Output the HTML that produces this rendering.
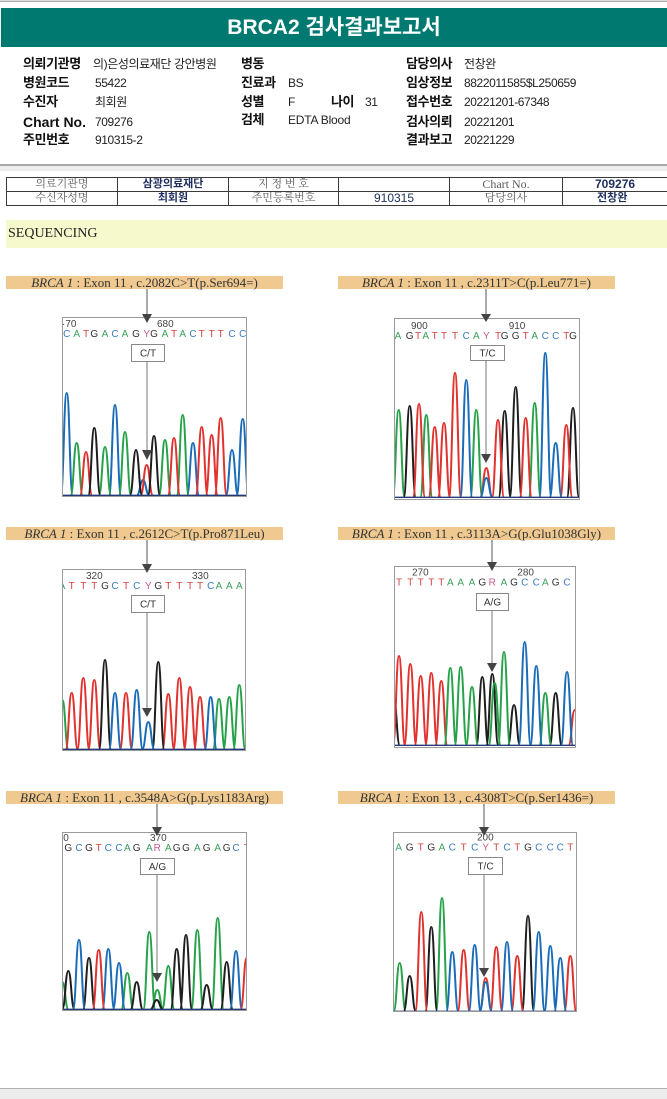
<!DOCTYPE html>
<html><head><meta charset="utf-8">
<style>
html,body{margin:0;padding:0;}
body{width:667px;height:1099px;position:relative;overflow:hidden;background:#fff;font-family:"Liberation Sans","Noto Sans CJK KR",sans-serif;}
.a{position:absolute;white-space:nowrap;line-height:16px;color:#111;}
.l{font-weight:bold;font-size:13px;letter-spacing:-0.4px;font-family:"Liberation Sans","Noto Sans CJK KR",sans-serif;}
.v{font-size:12px;letter-spacing:-0.4px;color:#222;}
table.t{position:absolute;left:6px;top:177px;border-collapse:collapse;table-layout:fixed;width:720px;}
table.t td{border:1px solid #3a3a3a;height:13px;padding:0;font-size:11px;line-height:13px;text-align:center;overflow:hidden;white-space:nowrap;}
.g{color:#5a5a5a;font-family:"Liberation Serif","Noto Serif CJK SC",serif;}
.n{color:#1d2e5e;font-weight:bold;font-family:"Liberation Sans","Noto Sans CJK KR",sans-serif;}
.C{fill:#3a7cc2}.A{fill:#3b9e5c}.T{fill:#d2453f}.G{fill:#333}.Y{fill:#c25a8c}
</style></head><body>
<div style="position:absolute;left:0;top:0;width:667px;height:1px;background:#ddd"></div>
<div style="position:absolute;left:0;top:1px;width:667px;height:1px;background:#aaa"></div>
<div style="position:absolute;left:1px;top:8px;width:666px;height:39px;background:#007a70;color:#fff;font-weight:bold;font-size:21px;line-height:39px;text-align:center;font-family:'Liberation Sans','Noto Sans CJK KR',sans-serif;">BRCA2 검사결과보고서</div>

<div class="a l" style="left:23px;top:56px">의뢰기관명</div>
<div class="a v" style="left:93px;top:56px">의)은성의료재단 강안병원</div>
<div class="a l" style="left:241px;top:56px">병동</div>
<div class="a l" style="left:406px;top:56px">담당의사</div>
<div class="a v" style="left:464px;top:56px">전창완</div>

<div class="a l" style="left:23px;top:75px">병원코드</div>
<div class="a v" style="left:95px;top:75px">55422</div>
<div class="a l" style="left:241px;top:75px">진료과</div>
<div class="a v" style="left:288px;top:75px">BS</div>
<div class="a l" style="left:406px;top:75px">임상정보</div>
<div class="a v" style="left:464px;top:75px">8822011585$L250659</div>

<div class="a l" style="left:23px;top:94px">수진자</div>
<div class="a v" style="left:95px;top:94px">최회원</div>
<div class="a l" style="left:241px;top:94px">성별</div>
<div class="a v" style="left:288px;top:94px">F</div>
<div class="a l" style="left:331px;top:94px">나이</div>
<div class="a v" style="left:365px;top:94px">31</div>
<div class="a l" style="left:406px;top:94px">접수번호</div>
<div class="a v" style="left:464px;top:94px">20221201-67348</div>

<div class="a l" style="left:23px;top:114px;font-size:14px;letter-spacing:0">Chart No.</div>
<div class="a v" style="left:95px;top:114px">709276</div>
<div class="a l" style="left:241px;top:112px">검체</div>
<div class="a v" style="left:288px;top:112px;letter-spacing:-0.2px">EDTA Blood</div>
<div class="a l" style="left:406px;top:114px">검사의뢰</div>
<div class="a v" style="left:464px;top:114px">20221201</div>

<div class="a l" style="left:23px;top:132px">주민번호</div>
<div class="a v" style="left:95px;top:132px">910315-2</div>
<div class="a l" style="left:406px;top:132px">결과보고</div>
<div class="a v" style="left:464px;top:132px">20221229</div>

<div style="position:absolute;left:0;top:164px;width:667px;height:2px;background:#a8a8a8"></div>
<div style="position:absolute;left:0;top:166px;width:667px;height:5px;background:#ececec"></div>

<table class="t">
<colgroup><col style="width:111px"><col style="width:111px"><col style="width:110px"><col style="width:111px"><col style="width:113px"><col style="width:164px"></colgroup>
<tr><td class="g">의료기관명</td><td class="n">삼광의료재단</td><td class="g">지 정 번 호</td><td></td><td class="g" style="font-size:12px">Chart No.</td><td class="n" style="font-size:12px;text-align:left;padding-left:32px">709276</td></tr>
<tr><td class="g">수신자성명</td><td class="n">최회원</td><td class="g">주민등록번호</td><td class="n" style="font-weight:normal;font-size:12px">910315</td><td class="g">담당의사</td><td class="n" style="text-align:left;padding-left:34px">전창완</td></tr>
</table>

<div style="position:absolute;left:6px;top:220px;width:661px;height:28px;background:#f6f9cc;"></div>
<div class="a" style="left:8px;top:226px;font-family:'Liberation Serif',serif;font-size:14px;color:#222;">SEQUENCING</div>

<div style="position:absolute;left:0;top:1088px;width:667px;height:1px;background:#b0b0b0"></div>
<div style="position:absolute;left:0;top:1089px;width:667px;height:10px;background:#ececec"></div>

<svg width="667" height="1099" style="position:absolute;left:0;top:0" font-family="Liberation Sans, sans-serif">
<defs>
<clipPath id="c1"><rect width="185" height="180"/></clipPath>
<clipPath id="c2"><rect width="186" height="182"/></clipPath>
<clipPath id="c3"><rect width="184" height="182"/></clipPath>
<clipPath id="c4"><rect width="182" height="182"/></clipPath>
<clipPath id="c5"><rect width="185" height="179"/></clipPath>
<clipPath id="c6"><rect width="184" height="180"/></clipPath>
</defs>

<!-- label bars -->
<g font-family="Liberation Serif, serif" font-size="13" fill="#333" text-anchor="middle">
<rect x="6" y="276" width="277" height="13" fill="#efc98f"/>
<text x="144.5" y="287"><tspan font-style="italic">BRCA 1</tspan> : Exon 11 , c.2082C&gt;T(p.Ser694=)</text>
<rect x="338" y="276" width="277" height="13" fill="#efc98f"/>
<text x="476.5" y="287"><tspan font-style="italic">BRCA 1</tspan> : Exon 11 , c.2311T&gt;C(p.Leu771=)</text>
<rect x="6" y="527" width="277" height="13" fill="#efc98f"/>
<text x="144.5" y="538"><tspan font-style="italic">BRCA 1</tspan> : Exon 11 , c.2612C&gt;T(p.Pro871Leu)</text>
<rect x="338" y="527" width="277" height="13" fill="#efc98f"/>
<text x="476.5" y="538"><tspan font-style="italic">BRCA 1</tspan> : Exon 11 , c.3113A&gt;G(p.Glu1038Gly)</text>
<rect x="6" y="791" width="277" height="13" fill="#efc98f"/>
<text x="144.5" y="802"><tspan font-style="italic">BRCA 1</tspan> : Exon 11 , c.3548A&gt;G(p.Lys1183Arg)</text>
<rect x="338" y="791" width="277" height="13" fill="#efc98f"/>
<text x="476.5" y="802"><tspan font-style="italic">BRCA 1</tspan> : Exon 13 , c.4308T&gt;C(p.Ser1436=)</text>
</g>

<!-- PANEL 1 -->
<g transform="translate(62,317)">
<rect width="185" height="180" fill="#fff"/>
<g clip-path="url(#c1)">
<g fill="none" stroke-width="2" stroke-linejoin="round" transform="translate(-0.5,0)">
<path stroke="#1b6cb8" d="M-0.8,178c3,0 3,-102 6,-102c3,0 3,102 6,102M47.5,178c3,0 3,-90 6,-90c3,0 3,90 6,90M75.5,178c3,0 3,-15 6,-15c3,0 3,15 6,15M125.5,178c3,0 3,-52 6,-52c3,0 3,52 6,52M164.5,178c3,0 3,-45 6,-45c3,0 3,45 6,45M175.2,178c3,0 3,-76 6,-76c3,0 3,76 6,76"/>
<path stroke="#27a24a" d="M9.2,178c3,0 3,-52 6,-52c3,0 3,52 6,52M37.5,178c3,0 3,-48 6,-48c3,0 3,48 6,48M57.5,178c3,0 3,-63 6,-63c3,0 3,63 6,63M97.5,178c3,0 3,-55 6,-55c3,0 3,55 6,55M115.2,178c3,0 3,-80 6,-80c3,0 3,80 6,80"/>
<path stroke="#e0322e" d="M18.5,178c3,0 3,-43 6,-43c3,0 3,43 6,43M79.2,178c3,0 3,-30 6,-30c3,0 3,30 6,30M106.5,178c3,0 3,-57 6,-57c3,0 3,57 6,57M134.2,178c3,0 3,-68 6,-68c3,0 3,68 6,68M144.2,178c3,0 3,-60 6,-60c3,0 3,60 6,60M153.2,178c3,0 3,-77 6,-77c3,0 3,77 6,77"/>
<path stroke="#1e1e1e" d="M26.8,178c3,0 3,-67 6,-67c3,0 3,67 6,67M68.5,178c3,0 3,-45 6,-45c3,0 3,45 6,45M86.5,178c3,0 3,-59 6,-59c3,0 3,59 6,59"/>
</g>
<path stroke="#223a78" stroke-width="1.4" fill="none" d="M0,178.3H185"/>
<text font-size="10" fill="#444" y="10"><tspan x="0">·70</tspan><tspan x="95">680</tspan></text>
<text font-size="10" y="20" text-anchor="middle"><tspan x="4.7" class="C">C</tspan><tspan x="14.7" class="A">A</tspan><tspan x="24" class="T">T</tspan><tspan x="32.3" class="G">G</tspan><tspan x="43" class="A">A</tspan><tspan x="53" class="C">C</tspan><tspan x="63" class="A">A</tspan><tspan x="74" class="G">G</tspan><tspan x="84.7" class="Y">Y</tspan><tspan x="92" class="G">G</tspan><tspan x="103" class="A">A</tspan><tspan x="112" class="T">T</tspan><tspan x="120.7" class="A">A</tspan><tspan x="131" class="C">C</tspan><tspan x="139.7" class="T">T</tspan><tspan x="149.7" class="T">T</tspan><tspan x="158.7" class="T">T</tspan><tspan x="170" class="C">C</tspan><tspan x="180.7" class="C">C</tspan></text>
</g>
<rect x="0.5" y="0.5" width="184" height="179" fill="none" stroke="#9a9a9a"/>
</g>
<line x1="147" y1="289" x2="147" y2="315" stroke="#555"/>
<polygon points="142,314 152,314 147,323" fill="#444"/>
<rect x="131.5" y="344.5" width="33" height="17" fill="#fff" stroke="#888"/>
<text x="148" y="356.5" font-size="10" text-anchor="middle" fill="#333">C/T</text>
<line x1="147" y1="361.5" x2="147" y2="451" stroke="#777"/>
<polygon points="142,450 152,450 147,460" fill="#444"/>

<!-- PANEL 2 -->
<g transform="translate(394,318)">
<rect width="186" height="182" fill="#fff"/>
<g clip-path="url(#c2)">
<g fill="none" stroke-width="2" stroke-linejoin="round" transform="translate(-0.5,0)">
<path stroke="#27a24a" d="M-0.8,179c3,0 3,-87 6,-87c3,0 3,87 6,87M26.8,179c3,0 3,-82 6,-82c3,0 3,82 6,82M76.8,179c3,0 3,-87 6,-87c3,0 3,87 6,87M135.2,179c3,0 3,-94 6,-94c3,0 3,94 6,94"/>
<path stroke="#1e1e1e" d="M10.2,179c3,0 3,-91 6,-91c3,0 3,91 6,91M105.2,179c3,0 3,-86 6,-86c3,0 3,86 6,86M116.2,179c3,0 3,-110 6,-110c3,0 3,110 6,110M173.5,179c3,0 3,-89 6,-89c3,0 3,89 6,89"/>
<path stroke="#e0322e" d="M19.5,179c3,0 3,-93 6,-93c3,0 3,93 6,93M35.2,179c3,0 3,-70 6,-70c3,0 3,70 6,70M44.5,179c3,0 3,-74 6,-74c3,0 3,74 6,74M55.5,179c3,0 3,-124 6,-124c3,0 3,124 6,124M86.8,179c3,0 3,-29 6,-29c3,0 3,29 6,29M98.5,179c3,0 3,-77 6,-77c3,0 3,77 6,77M126.2,179c3,0 3,-79 6,-79c3,0 3,79 6,79M166.8,179c3,0 3,-72 6,-72c3,0 3,72 6,72"/>
<path stroke="#1b6cb8" d="M66.8,179c3,0 3,-117 6,-117c3,0 3,117 6,117M86.8,179c3,0 3,-19 6,-19c3,0 3,19 6,19M145.8,179c3,0 3,-144 6,-144c3,0 3,144 6,144M156.2,179c3,0 3,-54 6,-54c3,0 3,54 6,54"/>
</g>
<path stroke="#223a78" stroke-width="1.4" fill="none" d="M0,179.3H186"/>
<text font-size="10" fill="#444" y="11"><tspan x="17">900</tspan><tspan x="114.7">910</tspan></text>
<text font-size="10" y="21" text-anchor="middle"><tspan x="4" class="A">A</tspan><tspan x="15.7" class="G">G</tspan><tspan x="24" class="T">T</tspan><tspan x="31.7" class="A">A</tspan><tspan x="40.7" class="T">T</tspan><tspan x="50" class="T">T</tspan><tspan x="61" class="T">T</tspan><tspan x="72.3" class="C">C</tspan><tspan x="82.3" class="A">A</tspan><tspan x="92.3" class="Y">Y</tspan><tspan x="104" class="T">T</tspan><tspan x="110.7" class="G">G</tspan><tspan x="121.7" class="G">G</tspan><tspan x="131.7" class="T">T</tspan><tspan x="140.7" class="A">A</tspan><tspan x="151.3" class="C">C</tspan><tspan x="161.7" class="C">C</tspan><tspan x="172.3" class="T">T</tspan><tspan x="179" class="G">G</tspan></text>
</g>
<rect x="0.5" y="0.5" width="185" height="181" fill="none" stroke="#9a9a9a"/>
</g>
<line x1="486" y1="289" x2="486" y2="315" stroke="#555"/>
<polygon points="481,314 491,314 486,322" fill="#444"/>
<rect x="470.5" y="345.5" width="34" height="15" fill="#fff" stroke="#888"/>
<text x="487.5" y="356.5" font-size="10" text-anchor="middle" fill="#333">T/C</text>
<line x1="486" y1="360.5" x2="486" y2="455" stroke="#777"/>
<polygon points="481,454 491,454 486,463" fill="#444"/>

<!-- PANEL 3 -->
<g transform="translate(62,569)">
<rect width="184" height="182" fill="#fff"/>
<g clip-path="url(#c3)">
<g fill="none" stroke-width="2" stroke-linejoin="round" transform="translate(-0.5,0)">
<path stroke="#27a24a" d="M-5.2,180c3,0 3,-49 6,-49c3,0 3,49 6,49M151.5,180c3,0 3,-50 6,-50c3,0 3,50 6,50M161.8,180c3,0 3,-52 6,-52c3,0 3,52 6,52M171.8,180c3,0 3,-64 6,-64c3,0 3,64 6,64"/>
<path stroke="#e0322e" d="M4.2,180c3,0 3,-56 6,-56c3,0 3,56 6,56M15.8,180c3,0 3,-71 6,-71c3,0 3,71 6,71M26.8,180c3,0 3,-69 6,-69c3,0 3,69 6,69M58.5,180c3,0 3,-56 6,-56c3,0 3,56 6,56M100.8,180c3,0 3,-55 6,-55c3,0 3,55 6,55M111.8,180c3,0 3,-71 6,-71c3,0 3,71 6,71M122.5,180c3,0 3,-62 6,-62c3,0 3,62 6,62M132.5,180c3,0 3,-52 6,-52c3,0 3,52 6,52"/>
<path stroke="#1e1e1e" d="M37.5,180c3,0 3,-89 6,-89c3,0 3,89 6,89M90.8,180c3,0 3,-87 6,-87c3,0 3,87 6,87"/>
<path stroke="#1b6cb8" d="M47.5,180c3,0 3,-56 6,-56c3,0 3,56 6,56M69.2,180c3,0 3,-59 6,-59c3,0 3,59 6,59M80.8,180c3,0 3,-27 6,-27c3,0 3,27 6,27M143.2,180c3,0 3,-52 6,-52c3,0 3,52 6,52"/>
</g>
<path stroke="#223a78" stroke-width="1.4" fill="none" d="M0,180.3H184"/>
<text font-size="10" fill="#444" y="10"><tspan x="24">320</tspan><tspan x="130">330</tspan></text>
<text font-size="10" y="20" text-anchor="middle"><tspan x="0" class="A">A</tspan><tspan x="9.7" class="T">T</tspan><tspan x="21.3" class="T">T</tspan><tspan x="32.3" class="T">T</tspan><tspan x="43" class="G">G</tspan><tspan x="53" class="C">C</tspan><tspan x="64" class="T">T</tspan><tspan x="74.7" class="C">C</tspan><tspan x="86.3" class="Y">Y</tspan><tspan x="96.3" class="G">G</tspan><tspan x="106.3" class="T">T</tspan><tspan x="117.3" class="T">T</tspan><tspan x="128" class="T">T</tspan><tspan x="138" class="T">T</tspan><tspan x="148.7" class="C">C</tspan><tspan x="157" class="A">A</tspan><tspan x="167.3" class="A">A</tspan><tspan x="177.3" class="A">A</tspan></text>
</g>
<rect x="0.5" y="0.5" width="183" height="181" fill="none" stroke="#9a9a9a"/>
</g>
<line x1="147" y1="540" x2="147" y2="565" stroke="#555"/>
<polygon points="142,564 152,564 147,573" fill="#444"/>
<rect x="131.5" y="595.5" width="33" height="17" fill="#fff" stroke="#888"/>
<text x="148" y="607.5" font-size="10" text-anchor="middle" fill="#333">C/T</text>
<line x1="147" y1="612.5" x2="147" y2="709" stroke="#777"/>
<polygon points="142,708 152,708 147,717" fill="#444"/>

<!-- PANEL 4 -->
<g transform="translate(394,566)">
<rect width="182" height="182" fill="#fff"/>
<g clip-path="url(#c4)">
<g fill="none" stroke-width="2" stroke-linejoin="round" transform="translate(-0.5,0)">
<path stroke="#1e1e1e" d="M-5.8,179c3,0 3,-47 6,-47c3,0 3,47 6,47M82.8,179c3,0 3,-68 6,-68c3,0 3,68 6,68M92.8,179c3,0 3,-71 6,-71c3,0 3,71 6,71M114.5,179c3,0 3,-40 6,-40c3,0 3,40 6,40M156.2,179c3,0 3,-52 6,-52c3,0 3,52 6,52"/>
<path stroke="#e0322e" d="M-0.5,179c3,0 3,-89 6,-89c3,0 3,89 6,89M10.8,179c3,0 3,-81 6,-81c3,0 3,81 6,81M21.2,179c3,0 3,-69 6,-69c3,0 3,69 6,69M31.8,179c3,0 3,-72 6,-72c3,0 3,72 6,72M41.8,179c3,0 3,-64 6,-64c3,0 3,64 6,64M175.2,179c3,0 3,-35 6,-35c3,0 3,35 6,35"/>
<path stroke="#27a24a" d="M50.8,179c3,0 3,-77 6,-77c3,0 3,77 6,77M61.2,179c3,0 3,-78 6,-78c3,0 3,78 6,78M72.5,179c3,0 3,-58 6,-58c3,0 3,58 6,58M95.2,179c3,0 3,-62 6,-62c3,0 3,62 6,62M104.5,179c3,0 3,-93 6,-93c3,0 3,93 6,93M145.8,179c3,0 3,-52 6,-52c3,0 3,52 6,52"/>
<path stroke="#1b6cb8" d="M125.2,179c3,0 3,-103 6,-103c3,0 3,103 6,103M136.8,179c3,0 3,-79 6,-79c3,0 3,79 6,79M167.5,179c3,0 3,-73 6,-73c3,0 3,73 6,73"/>
</g>
<path stroke="#223a78" stroke-width="1.4" fill="none" d="M0,179.3H182"/>
<text font-size="10" fill="#444" y="9.5"><tspan x="18">270</tspan><tspan x="123.3">280</tspan></text>
<text font-size="10" y="19.5" text-anchor="middle"><tspan x="5" class="T">T</tspan><tspan x="16.3" class="T">T</tspan><tspan x="26.7" class="T">T</tspan><tspan x="37.3" class="T">T</tspan><tspan x="47.3" class="T">T</tspan><tspan x="56.3" class="A">A</tspan><tspan x="66.7" class="A">A</tspan><tspan x="78" class="A">A</tspan><tspan x="88.3" class="G">G</tspan><tspan x="98.3" class="Y">R</tspan><tspan x="110" class="A">A</tspan><tspan x="120" class="G">G</tspan><tspan x="130.7" class="C">C</tspan><tspan x="142.3" class="C">C</tspan><tspan x="151.3" class="A">A</tspan><tspan x="161.7" class="G">G</tspan><tspan x="173" class="C">C</tspan></text>
</g>
<rect x="0.5" y="0.5" width="181" height="181" fill="none" stroke="#9a9a9a"/>
</g>
<line x1="492" y1="540" x2="492" y2="563" stroke="#555"/>
<polygon points="487,562 497,562 492,571" fill="#444"/>
<rect x="476.5" y="593.5" width="32" height="17" fill="#fff" stroke="#888"/>
<text x="492.5" y="605.5" font-size="10" text-anchor="middle" fill="#333">A/G</text>
<line x1="492" y1="610.5" x2="492" y2="664" stroke="#777"/>
<polygon points="487,663 497,663 492,672" fill="#444"/>

<!-- PANEL 5 -->
<g transform="translate(62,832)">
<rect width="185" height="179" fill="#fff"/>
<g clip-path="url(#c5)">
<g fill="none" stroke-width="2" stroke-linejoin="round" transform="translate(-0.5,0)">
<path stroke="#27a24a" d="M-5.2,177c3,0 3,-27 6,-27c3,0 3,27 6,27M59.8,177c3,0 3,-36 6,-36c3,0 3,36 6,36M81.8,177c3,0 3,-77 6,-77c3,0 3,77 6,77M89.8,177c3,0 3,-19 6,-19c3,0 3,19 6,19M100.8,177c3,0 3,-43 6,-43c3,0 3,43 6,43M129.8,177c3,0 3,-79 6,-79c3,0 3,79 6,79M150.2,177c3,0 3,-91 6,-91c3,0 3,91 6,91"/>
<path stroke="#1e1e1e" d="M0.8,177c3,0 3,-38 6,-38c3,0 3,38 6,38M21.5,177c3,0 3,-51 6,-51c3,0 3,51 6,51M69.2,177c3,0 3,-27 6,-27c3,0 3,27 6,27M89.2,177c3,0 3,-9 6,-9c3,0 3,9 6,9M109.2,177c3,0 3,-60 6,-60c3,0 3,60 6,60M118.5,177c3,0 3,-74 6,-74c3,0 3,74 6,74M139.2,177c3,0 3,-24 6,-24c3,0 3,24 6,24M159.2,177c3,0 3,-47 6,-47c3,0 3,47 6,47"/>
<path stroke="#1b6cb8" d="M11.5,177c3,0 3,-69 6,-69c3,0 3,69 6,69M40.8,177c3,0 3,-60 6,-60c3,0 3,60 6,60M51.5,177c3,0 3,-46 6,-46c3,0 3,46 6,46M168.5,177c3,0 3,-58 6,-58c3,0 3,58 6,58"/>
<path stroke="#e0322e" d="M31.2,177c3,0 3,-59 6,-59c3,0 3,59 6,59M179.2,177c3,0 3,-51 6,-51c3,0 3,51 6,51"/>
</g>
<path stroke="#223a78" stroke-width="1.4" fill="none" d="M0,177.3H185"/>
<text font-size="10" fill="#444" y="9"><tspan x="1.3">0</tspan><tspan x="88">370</tspan></text>
<text font-size="10" y="19" text-anchor="middle"><tspan x="6.3" class="G">G</tspan><tspan x="17" class="C">C</tspan><tspan x="27" class="G">G</tspan><tspan x="36.7" class="T">T</tspan><tspan x="46.3" class="C">C</tspan><tspan x="57" class="C">C</tspan><tspan x="65.3" class="A">A</tspan><tspan x="74.7" class="G">G</tspan><tspan x="87.3" class="A">A</tspan><tspan x="95.3" class="Y">R</tspan><tspan x="106.3" class="A">A</tspan><tspan x="114.7" class="G">G</tspan><tspan x="124" class="G">G</tspan><tspan x="135.3" class="A">A</tspan><tspan x="144.7" class="G">G</tspan><tspan x="155.7" class="A">A</tspan><tspan x="164.7" class="G">G</tspan><tspan x="174" class="C">C</tspan><tspan x="184.7" class="T">T</tspan></text>
</g>
<rect x="0.5" y="0.5" width="184" height="178" fill="none" stroke="#9a9a9a"/>
</g>
<line x1="157" y1="804" x2="157" y2="828" stroke="#555"/>
<polygon points="152,827 162,827 157,836" fill="#444"/>
<rect x="140.5" y="858.5" width="34" height="16" fill="#fff" stroke="#888"/>
<text x="157.5" y="870" font-size="10" text-anchor="middle" fill="#333">A/G</text>
<line x1="157" y1="874.5" x2="157" y2="974" stroke="#777"/>
<polygon points="152,973 162,973 157,982" fill="#444"/>

<!-- PANEL 6 -->
<g transform="translate(393,832)">
<rect width="184" height="180" fill="#fff"/>
<g clip-path="url(#c6)">
<g fill="none" stroke-width="2" stroke-linejoin="round" transform="translate(-0.5,0)">
<path stroke="#27a24a" d="M1.2,179c3,0 3,-48 6,-48c3,0 3,48 6,48M43.5,179c3,0 3,-113 6,-113c3,0 3,113 6,113"/>
<path stroke="#1e1e1e" d="M11.2,179c3,0 3,-35 6,-35c3,0 3,35 6,35M32.8,179c3,0 3,-84 6,-84c3,0 3,84 6,84M129.5,179c3,0 3,-95 6,-95c3,0 3,95 6,95"/>
<path stroke="#e0322e" d="M22.8,179c3,0 3,-99 6,-99c3,0 3,99 6,99M65.2,179c3,0 3,-61 6,-61c3,0 3,61 6,61M87.2,179c3,0 3,-33 6,-33c3,0 3,33 6,33M97.8,179c3,0 3,-64 6,-64c3,0 3,64 6,64M118.8,179c3,0 3,-55 6,-55c3,0 3,55 6,55M171.8,179c3,0 3,-55 6,-55c3,0 3,55 6,55"/>
<path stroke="#1b6cb8" d="M53.8,179c3,0 3,-59 6,-59c3,0 3,59 6,59M76.2,179c3,0 3,-66 6,-66c3,0 3,66 6,66M87.2,179c3,0 3,-29 6,-29c3,0 3,29 6,29M108.5,179c3,0 3,-69 6,-69c3,0 3,69 6,69M140.2,179c3,0 3,-79 6,-79c3,0 3,79 6,79M151.8,179c3,0 3,-65 6,-65c3,0 3,65 6,65M161.8,179c3,0 3,-53 6,-53c3,0 3,53 6,53"/>
</g>
<path stroke="#223a78" stroke-width="1.4" fill="none" d="M0,179.3H184"/>
<text font-size="10" fill="#444" y="8.5"><tspan x="84">200</tspan></text>
<text font-size="10" y="18.5" text-anchor="middle"><tspan x="5.7" class="A">A</tspan><tspan x="16.7" class="G">G</tspan><tspan x="27.7" class="T">T</tspan><tspan x="38.3" class="G">G</tspan><tspan x="49" class="A">A</tspan><tspan x="59.3" class="C">C</tspan><tspan x="70.7" class="T">T</tspan><tspan x="81.7" class="C">C</tspan><tspan x="92.7" class="Y">Y</tspan><tspan x="103.3" class="T">T</tspan><tspan x="114" class="C">C</tspan><tspan x="124.3" class="T">T</tspan><tspan x="135" class="G">G</tspan><tspan x="145.7" class="C">C</tspan><tspan x="157.3" class="C">C</tspan><tspan x="167.3" class="C">C</tspan><tspan x="177.3" class="T">T</tspan></text>
</g>
<rect x="0.5" y="0.5" width="183" height="179" fill="none" stroke="#9a9a9a"/>
</g>
<line x1="484" y1="804" x2="484" y2="828" stroke="#555"/>
<polygon points="479,827 489,827 484,836" fill="#444"/>
<rect x="468.5" y="857.5" width="34" height="17" fill="#fff" stroke="#888"/>
<text x="485.5" y="869.5" font-size="10" text-anchor="middle" fill="#333">T/C</text>
<line x1="484" y1="874.5" x2="484" y2="969" stroke="#777"/>
<polygon points="479,968 489,968 484,977" fill="#444"/>
</svg>
</body></html>
